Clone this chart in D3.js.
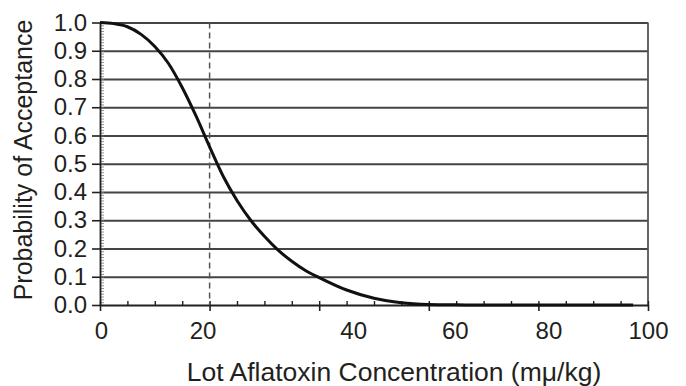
<!DOCTYPE html>
<html>
<head>
<meta charset="utf-8">
<script src="https://cdn.jsdelivr.net/npm/d3@7"></script>
<style>
  html, body { margin: 0; padding: 0; background: #fff; }
  svg { display: block; }
  text { font-family: "Liberation Sans", Arial, sans-serif; fill: #231f20; }
</style>
</head>
<body>
<svg id="chart" width="686" height="386"></svg>
<script>
// ---- data ----
const concentration = [0, 2.5, 5, 7.5, 10, 12.5, 15, 17.5, 20, 22.5, 25, 27.5, 30, 32.5, 35, 37.5, 40, 45, 50, 55, 60, 65, 70, 80, 90, 97.3];
const probability   = [1.0, 0.996, 0.985, 0.958, 0.915, 0.855, 0.77, 0.67, 0.56, 0.455, 0.37, 0.30, 0.243, 0.194, 0.155, 0.122, 0.097, 0.053, 0.024, 0.008, 0.002, 0.0005, 0, 0, 0, 0];
const xTicks = [0, 20, 40, 60, 80, 100];
const yTicks = [0, 0.1, 0.2, 0.3, 0.4, 0.5, 0.6, 0.7, 0.8, 0.9, 1.0];
const limitValue = 20;
const xTitle = "Lot Aflatoxin Concentration (mμ/kg)";
const yTitle = "Probability of Acceptance";

// ---- layout ----
const svg = d3.select("#chart");
const plotL = 100, plotR = 648, plotT = 22.5, plotB = 305;
const x = d3.scaleLinear().domain([0, 100]).range([plotL, plotR]);
const y = d3.scaleLinear().domain([0, 1]).range([plotB, plotT]);
const ink = "#231f20";
const gridColor = "#444";

// gridlines
svg.append("g")
  .attr("transform", `translate(${plotL},0)`)
  .call(d3.axisLeft(y).tickValues(yTicks.filter(d => d > 0)).tickSize(-(plotR - plotL)).tickFormat(""))
  .call(g => g.select(".domain").remove())
  .call(g => g.selectAll("line").attr("stroke", gridColor).attr("stroke-width", 1.8));

// right frame
svg.append("line")
  .attr("x1", plotR).attr("x2", plotR).attr("y1", plotT).attr("y2", plotB)
  .attr("stroke", "#555").attr("stroke-width", 1.8);

// y minor ticks (inside)
svg.append("g")
  .attr("transform", `translate(${plotL},0)`)
  .call(d3.axisRight(y).tickValues(d3.range(0, 101).map(i => i / 100)).tickSize(4).tickFormat(""))
  .call(g => g.select(".domain").remove())
  .call(g => g.selectAll("line").attr("stroke", "#777").attr("stroke-width", 0.8));

// y major axis
svg.append("g")
  .attr("transform", `translate(${plotL},0)`)
  .call(d3.axisLeft(y).tickValues(yTicks).tickSize(8).tickPadding(5).tickSizeOuter(0).tickFormat(d3.format(".1f")))
  .call(g => g.select(".domain").attr("stroke", ink).attr("stroke-width", 1.8))
  .call(g => g.selectAll("line").attr("stroke", ink).attr("stroke-width", 1.6))
  .call(g => g.selectAll("text").attr("font-size", 24).attr("fill", ink)
     .style("font-family", "'Liberation Sans', Arial, sans-serif"));

// x minor ticks (upwards)
svg.append("g")
  .attr("transform", `translate(0,${plotB})`)
  .call(d3.axisTop(x).tickValues(d3.range(0, 101, 5)).tickSize(4).tickFormat(""))
  .call(g => g.select(".domain").remove())
  .call(g => g.selectAll("line").attr("stroke", ink).attr("stroke-width", 1.4));

// x major axis (ticks downward)
const labelNudge = {0: 1, 20: -7, 40: 34, 60: 26, 80: 10, 100: 0};
svg.append("g")
  .attr("transform", `translate(0,${plotB})`)
  .call(d3.axisBottom(x).tickValues(xTicks).tickSize(6).tickPadding(11).tickSizeOuter(0))
  .call(g => g.select(".domain").attr("stroke", ink).attr("stroke-width", 1.8))
  .call(g => g.selectAll("line").attr("stroke", ink).attr("stroke-width", 1.6))
  .call(g => g.selectAll("text").attr("font-size", 24).attr("fill", ink)
     .attr("dx", d => labelNudge[d] || 0)
     .style("font-family", "'Liberation Sans', Arial, sans-serif"));

// dashed reference line
svg.append("line")
  .attr("x1", x(limitValue)).attr("x2", x(limitValue))
  .attr("y1", y(1)).attr("y2", y(0))
  .attr("stroke", "#555").attr("stroke-width", 1.5)
  .attr("stroke-dasharray", "6,4");

// OC curve
const line = d3.line()
  .x((d, i) => x(concentration[i]))
  .y(d => y(d))
  .curve(d3.curveMonotoneX);
svg.append("path")
  .datum(probability)
  .attr("d", line)
  .attr("fill", "none")
  .attr("stroke", "#111")
  .attr("stroke-width", 3);

// titles
svg.append("text")
  .attr("x", 394).attr("y", 381)
  .attr("text-anchor", "middle")
  .attr("font-size", 26.5)
  .text(xTitle);

svg.append("text")
  .attr("transform", "translate(31.5,160) rotate(-90)")
  .attr("text-anchor", "middle")
  .attr("font-size", 25)
  .text(yTitle);
</script>
</body>
</html>
